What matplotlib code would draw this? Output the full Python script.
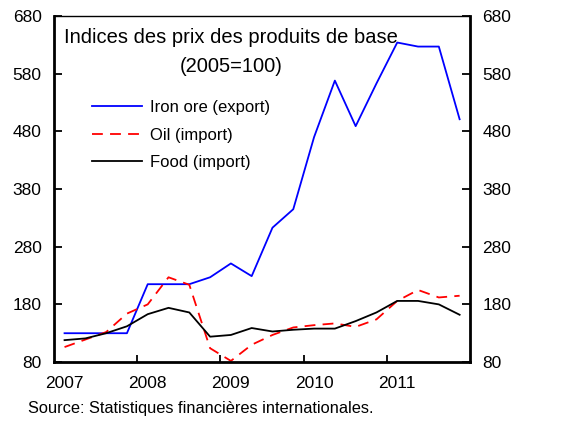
import matplotlib
matplotlib.use("Agg")
import matplotlib.pyplot as plt
import numpy as np

plt.rcParams['font.family'] = ['Liberation Sans', 'DejaVu Sans']

# Quarterly data, 2007Q1 - 2011Q4 (2005=100)
years = ["2007", "2008", "2009", "2010", "2011"]
iron_ore = [130, 130, 130, 130, 215, 215, 215, 227, 251, 229, 313, 345,
            470, 568, 489, 563, 634, 627, 627, 501]
oil = [106, 119, 132, 164, 180, 227, 214, 104, 82, 110, 127, 140,
       144, 147, 141, 154, 186, 205, 192, 195]
food = [118, 121, 130, 142, 163, 174, 166, 124, 127, 139, 133, 136,
        138, 138, 151, 166, 186, 186, 180, 162]

x = np.arange(len(iron_ore))

fig = plt.figure(figsize=(5.76, 4.21), dpi=100)
ax = fig.add_axes([0.094, 0.140, 0.722, 0.822])

ax.plot(x, iron_ore, color='#0000ff', lw=1.3, label='Iron ore (export)')
ax.plot(x, oil, color='#ff0000', lw=1.3, dashes=(6, 4), label='Oil (import)')
ax.plot(x, food, color='black', lw=1.3, label='Food (import)')

ax.set_xlim(-0.5, len(x) - 0.5)
ax.set_ylim(80, 680)
yt = np.arange(80, 681, 100)
ax.set_yticks(yt)
ax.tick_params(axis='y', direction='in', length=6, width=1.3, labelsize=12.5,
               left=True, right=True, labelleft=True, labelright=True, pad=9)

# year labels centred on the first quarter, tick marks between years
ax.set_xticks(np.arange(4, len(x), 4) - 0.5)
ax.set_xticklabels([])
ax.tick_params(axis='x', which='major', direction='in', length=5, width=1.3)
ax.set_xticks(np.arange(0, len(x), 4), minor=True)
ax.set_xticklabels(years, minor=True)
ax.tick_params(axis='x', which='minor', length=0, labelsize=12.5, pad=10)

for s in ['left', 'right', 'bottom']:
    ax.spines[s].set_linewidth(2)
ax.spines['top'].set_linewidth(1)

ax.text(0.425, 0.965, "Indices des prix des produits de base\n(2005=100)",
        transform=ax.transAxes, ha='center', va='top', fontsize=14.5,
        linespacing=1.65)

ax.legend(loc='upper left', bbox_to_anchor=(0.055, 0.80), frameon=False,
          fontsize=12, handlelength=3.0, handletextpad=0.48, labelspacing=0.75)

fig.text(0.049, 0.012, "Source: Statistiques financières internationales.",
         fontsize=11.8, ha='left', va='bottom')

fig.savefig("out.png", dpi=100)
